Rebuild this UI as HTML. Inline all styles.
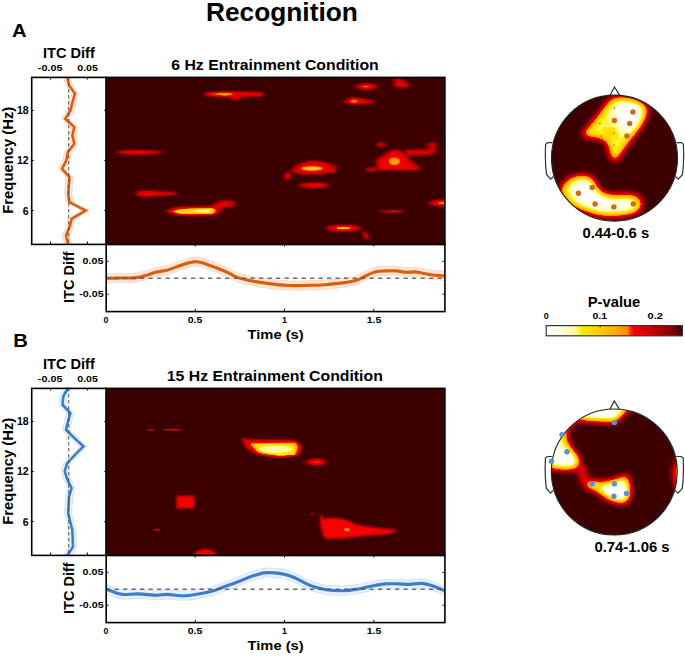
<!DOCTYPE html>
<html><head><meta charset="utf-8"><style>
html,body{margin:0;padding:0;background:#fff;width:685px;height:656px;overflow:hidden}
svg{display:block}
text{font-family:"Liberation Sans",sans-serif;font-weight:bold;fill:#000}
</style></head><body>
<svg width="685" height="656" viewBox="0 0 685 656">
<defs>
<filter id="hot" x="-5%" y="-5%" width="110%" height="110%" color-interpolation-filters="sRGB">
<feComponentTransfer><feFuncR type="table" tableValues="0.243 0.276 0.310 0.343 0.376 0.410 0.443 0.476 0.510 0.531 0.552 0.574 0.595 0.616 0.637 0.658 0.680 0.701 0.722 0.743 0.765 0.777 0.790 0.803 0.815 0.828 0.841 0.854 0.866 0.879 0.892 0.904 0.917 0.930 0.942 0.955 0.968 0.980 0.980 0.987 1.000 1.000 1.000 1.000 1.000 1.000 1.000 1.000 1.000 1.000 1.000 1.000 1.000 1.000 1.000 1.000 1.000 1.000 1.000 1.000 1.000 1.000 1.000 1.000 1.000 1.000 1.000 1.000 1.000 1.000 1.000 1.000 1.000 1.000 1.000 1.000 1.000 1.000 1.000 1.000 1.000 1.000 1.000 1.000 1.000 1.000 1.000 1.000 1.000 1.000 1.000 1.000 1.000 1.000 1.000 1.000 1.000 1.000 1.000 1.000 1.000"/><feFuncG type="table" tableValues="0.000 0.000 0.000 0.000 0.000 0.000 0.000 0.000 0.000 0.000 0.000 0.000 0.000 0.000 0.000 0.000 0.000 0.000 0.000 0.000 0.000 0.000 0.000 0.000 0.000 0.000 0.000 0.000 0.000 0.000 0.000 0.000 0.000 0.000 0.000 0.000 0.000 0.000 0.183 0.353 0.510 0.529 0.549 0.569 0.588 0.608 0.627 0.647 0.659 0.671 0.683 0.695 0.707 0.719 0.732 0.744 0.756 0.768 0.780 0.792 0.804 0.813 0.821 0.830 0.838 0.847 0.856 0.864 0.873 0.882 0.890 0.899 0.907 0.916 0.925 0.933 0.959 0.974 0.976 0.978 0.981 0.983 0.985 0.988 0.990 0.992 0.993 0.994 0.995 0.995 0.996 0.997 0.998 0.998 0.999 1.000 1.000 1.000 1.000 1.000 1.000"/><feFuncB type="table" tableValues="0.000 0.000 0.000 0.000 0.000 0.000 0.000 0.000 0.000 0.000 0.000 0.000 0.000 0.000 0.000 0.000 0.000 0.000 0.000 0.000 0.000 0.000 0.000 0.000 0.000 0.000 0.000 0.000 0.000 0.000 0.000 0.000 0.000 0.000 0.000 0.000 0.000 0.000 0.000 0.000 0.000 0.000 0.000 0.000 0.000 0.000 0.000 0.000 0.000 0.000 0.000 0.000 0.000 0.000 0.000 0.000 0.000 0.000 0.000 0.000 0.000 0.000 0.000 0.000 0.000 0.000 0.000 0.000 0.000 0.000 0.000 0.000 0.000 0.000 0.000 0.000 0.340 0.526 0.558 0.591 0.623 0.655 0.687 0.720 0.752 0.784 0.802 0.820 0.837 0.855 0.873 0.890 0.908 0.925 0.943 0.961 0.969 0.976 0.984 0.992 1.000"/></feComponentTransfer></filter>
<filter id="b1" x="-50%" y="-50%" width="200%" height="200%" color-interpolation-filters="sRGB"><feGaussianBlur stdDeviation="1.00 0.60"/></filter>
<filter id="b2" x="-50%" y="-50%" width="200%" height="200%" color-interpolation-filters="sRGB"><feGaussianBlur stdDeviation="1.80 1.00"/></filter>
<filter id="b3" x="-50%" y="-50%" width="200%" height="200%" color-interpolation-filters="sRGB"><feGaussianBlur stdDeviation="2.60 1.30"/></filter>
<filter id="tb" x="-50%" y="-50%" width="200%" height="200%" color-interpolation-filters="sRGB"><feGaussianBlur stdDeviation="3.00 3.00"/></filter>
<filter id="tw" x="-50%" y="-50%" width="200%" height="200%" color-interpolation-filters="sRGB"><feGaussianBlur stdDeviation="4.00 4.00"/></filter>
<linearGradient id="cb" x1="0" x2="1" y1="0" y2="0"><stop offset="0.00" stop-color="rgb(255,255,255)"/><stop offset="0.02" stop-color="rgb(255,255,251)"/><stop offset="0.04" stop-color="rgb(255,255,247)"/><stop offset="0.06" stop-color="rgb(255,254,240)"/><stop offset="0.08" stop-color="rgb(255,254,231)"/><stop offset="0.10" stop-color="rgb(255,254,222)"/><stop offset="0.12" stop-color="rgb(255,253,213)"/><stop offset="0.14" stop-color="rgb(255,253,204)"/><stop offset="0.16" stop-color="rgb(255,252,191)"/><stop offset="0.18" stop-color="rgb(255,251,175)"/><stop offset="0.20" stop-color="rgb(255,250,158)"/><stop offset="0.22" stop-color="rgb(255,248,142)"/><stop offset="0.24" stop-color="rgb(255,244,86)"/><stop offset="0.26" stop-color="rgb(255,235,0)"/><stop offset="0.28" stop-color="rgb(255,231,0)"/><stop offset="0.30" stop-color="rgb(255,227,0)"/><stop offset="0.32" stop-color="rgb(255,222,0)"/><stop offset="0.34" stop-color="rgb(255,218,0)"/><stop offset="0.36" stop-color="rgb(255,213,0)"/><stop offset="0.38" stop-color="rgb(255,209,0)"/><stop offset="0.40" stop-color="rgb(255,205,0)"/><stop offset="0.42" stop-color="rgb(255,198,0)"/><stop offset="0.44" stop-color="rgb(255,192,0)"/><stop offset="0.46" stop-color="rgb(255,186,0)"/><stop offset="0.48" stop-color="rgb(255,180,0)"/><stop offset="0.50" stop-color="rgb(255,174,0)"/><stop offset="0.52" stop-color="rgb(255,168,0)"/><stop offset="0.54" stop-color="rgb(255,160,0)"/><stop offset="0.56" stop-color="rgb(255,149,0)"/><stop offset="0.58" stop-color="rgb(255,140,0)"/><stop offset="0.60" stop-color="rgb(255,130,0)"/><stop offset="0.62" stop-color="rgb(250,46,0)"/><stop offset="0.64" stop-color="rgb(246,0,0)"/><stop offset="0.66" stop-color="rgb(240,0,0)"/><stop offset="0.68" stop-color="rgb(233,0,0)"/><stop offset="0.70" stop-color="rgb(227,0,0)"/><stop offset="0.72" stop-color="rgb(220,0,0)"/><stop offset="0.74" stop-color="rgb(214,0,0)"/><stop offset="0.76" stop-color="rgb(207,0,0)"/><stop offset="0.78" stop-color="rgb(201,0,0)"/><stop offset="0.80" stop-color="rgb(195,0,0)"/><stop offset="0.82" stop-color="rgb(184,0,0)"/><stop offset="0.84" stop-color="rgb(173,0,0)"/><stop offset="0.86" stop-color="rgb(162,0,0)"/><stop offset="0.88" stop-color="rgb(151,0,0)"/><stop offset="0.90" stop-color="rgb(140,0,0)"/><stop offset="0.92" stop-color="rgb(130,0,0)"/><stop offset="0.94" stop-color="rgb(113,0,0)"/><stop offset="0.96" stop-color="rgb(96,0,0)"/><stop offset="0.98" stop-color="rgb(79,0,0)"/><stop offset="1.00" stop-color="rgb(62,0,0)"/></linearGradient>
<clipPath id="cA"><rect x="106.2" y="77.4" width="338.7" height="167"/></clipPath>
<clipPath id="cB"><rect x="106.2" y="388.4" width="338.7" height="167"/></clipPath>
<clipPath id="tA"><circle cx="614.5" cy="158.1" r="63"/></clipPath>
<clipPath id="tB"><circle cx="614.3" cy="472" r="63"/></clipPath>
</defs>
<rect width="685" height="656" fill="#fff"/>
<text x="206.0" y="20.5" font-size="26.0" textLength="151.8" lengthAdjust="spacingAndGlyphs">Recognition</text>
<text x="12.0" y="37.0" font-size="18.6" textLength="14.6" lengthAdjust="spacingAndGlyphs">A</text>
<text x="13.2" y="347.4" font-size="18.6" textLength="14.6" lengthAdjust="spacingAndGlyphs">B</text>
<g clip-path="url(#cA)"><g filter="url(#hot)"><rect x="96" y="67" width="360" height="190" fill="#000"/>
<ellipse cx="234.0" cy="94.3" rx="30.0" ry="2.2" fill="#4c4c4c" filter="url(#b3)"/>
<ellipse cx="235.0" cy="97.6" rx="5.0" ry="2.0" fill="#4c4c4c" filter="url(#b2)"/>
<ellipse cx="250.0" cy="94.3" rx="12.0" ry="1.4" fill="#595959" filter="url(#b2)"/>
<ellipse cx="222.0" cy="94.2" rx="14.0" ry="1.6" fill="#737373" filter="url(#b3)"/>
<ellipse cx="225.0" cy="94.1" rx="6.0" ry="1.0" fill="#808080" filter="url(#b2)"/>
<ellipse cx="139.0" cy="152.3" rx="22.0" ry="1.9" fill="#4c4c4c" filter="url(#b3)"/>
<ellipse cx="136.0" cy="152.3" rx="10.0" ry="1.0" fill="#5e5e5e" filter="url(#b2)"/>
<polygon points="137.5,191.3 150.0,190.9 175.5,192.6 175.5,194.8 150.0,196.0 137.5,196.0" fill="#4c4c4c" filter="url(#b3)"/>
<ellipse cx="147.0" cy="193.6" rx="8.0" ry="1.3" fill="#616161" filter="url(#b2)"/>
<polygon points="166.0,211.5 176.0,207.5 212.0,206.5 216.0,204.0 222.0,200.5 234.0,201.5 233.0,206.0 222.0,207.5 218.0,213.5 205.0,215.5 178.0,215.0" fill="#4c4c4c" filter="url(#b3)"/>
<polygon points="170.0,211.3 180.0,208.3 213.0,207.8 216.5,210.5 214.0,214.0 190.0,214.6 178.0,214.0" fill="#6e6e6e" filter="url(#b2)"/>
<polygon points="174.0,211.2 184.0,209.0 212.0,208.6 214.5,211.0 212.0,213.4 190.0,213.8 180.0,213.2" fill="#a8a8a8" filter="url(#b1)"/>
<ellipse cx="203.0" cy="211.0" rx="9.0" ry="1.3" fill="#cccccc" filter="url(#b1)"/>
<ellipse cx="366.5" cy="86.7" rx="10.5" ry="2.7" fill="#4c4c4c" filter="url(#b3)"/>
<ellipse cx="366.0" cy="86.5" rx="4.5" ry="1.3" fill="#757575" filter="url(#b2)"/>
<polygon points="394.5,78.5 399.0,78.5 409.5,85.0 405.0,88.0 395.0,86.0" fill="#4c4c4c" filter="url(#b3)"/>
<ellipse cx="400.0" cy="83.0" rx="3.0" ry="1.5" fill="#5c5c5c" filter="url(#b2)"/>
<polygon points="344.0,101.5 352.0,97.5 374.0,101.0 372.0,103.3 352.0,104.3" fill="#4c4c4c" filter="url(#b3)"/>
<ellipse cx="354.0" cy="101.3" rx="4.5" ry="1.6" fill="#787878" filter="url(#b2)"/>
<ellipse cx="381.0" cy="144.7" rx="4.0" ry="1.8" fill="#474747" filter="url(#b2)"/>
<polygon points="377.3,170.0 377.3,160.0 390.5,151.4 395.0,149.8 399.7,150.8 405.0,154.7 410.2,161.3 420.7,169.8" fill="#525252" filter="url(#b3)"/>
<polygon points="405.0,154.7 406.0,150.0 428.6,150.0 428.6,143.0 435.2,143.0 435.2,152.7 426.0,154.7 410.0,155.0" fill="#474747" filter="url(#b3)"/>
<ellipse cx="371.0" cy="169.2" rx="5.0" ry="1.5" fill="#454545" filter="url(#b2)"/>
<ellipse cx="394.4" cy="161.3" rx="6.5" ry="4.3" fill="#696969" filter="url(#b2)"/>
<ellipse cx="394.4" cy="161.3" rx="3.5" ry="2.4" fill="#7d7d7d" filter="url(#b2)"/>
<polygon points="291.4,171.0 300.0,164.0 312.3,160.7 326.0,163.0 335.5,167.0 334.0,172.0 320.0,173.8 298.0,173.8" fill="#4c4c4c" filter="url(#b3)"/>
<ellipse cx="287.5" cy="176.0" rx="3.0" ry="3.8" fill="#404040" filter="url(#b2)"/>
<ellipse cx="312.0" cy="168.5" rx="12.0" ry="2.4" fill="#757575" filter="url(#b2)"/>
<ellipse cx="312.0" cy="168.4" rx="8.0" ry="1.3" fill="#9c9c9c" filter="url(#b1)"/>
<ellipse cx="314.0" cy="185.3" rx="14.5" ry="2.2" fill="#4c4c4c" filter="url(#b3)"/>
<ellipse cx="314.0" cy="185.3" rx="8.0" ry="1.0" fill="#616161" filter="url(#b2)"/>
<ellipse cx="443.0" cy="203.0" rx="13.0" ry="3.0" fill="#4c4c4c" filter="url(#b3)"/>
<ellipse cx="443.0" cy="203.0" rx="6.0" ry="1.6" fill="#757575" filter="url(#b2)"/>
<ellipse cx="392.0" cy="211.4" rx="12.0" ry="0.9" fill="#474747" filter="url(#b2)"/>
<ellipse cx="394.0" cy="211.4" rx="6.0" ry="0.6" fill="#595959" filter="url(#b1)"/>
<ellipse cx="343.5" cy="228.2" rx="16.5" ry="3.0" fill="#4c4c4c" filter="url(#b3)"/>
<ellipse cx="344.0" cy="228.2" rx="9.0" ry="1.6" fill="#737373" filter="url(#b2)"/>
<ellipse cx="343.0" cy="228.0" rx="5.0" ry="0.9" fill="#999999" filter="url(#b1)"/>
<polygon points="362.0,231.5 366.0,232.5 370.0,238.8 365.0,238.8" fill="#424242" filter="url(#b2)"/>
</g></g>
<g clip-path="url(#cB)"><g filter="url(#hot)"><rect x="96" y="378" width="360" height="190" fill="#000"/>
<ellipse cx="150.0" cy="429.7" rx="3.0" ry="0.9" fill="#383838" filter="url(#b1)"/>
<ellipse cx="171.5" cy="429.7" rx="9.0" ry="0.9" fill="#383838" filter="url(#b1)"/>
<polygon points="241.7,438.2 250.4,439.7 294.2,440.4 301.5,446.3 298.6,455.0 278.2,457.6 256.3,454.0 246.1,447.7" fill="#4c4c4c" filter="url(#b2)"/>
<polygon points="249.0,442.5 296.0,442.0 298.5,447.0 296.0,455.0 280.0,456.5 258.0,453.0" fill="#6e6e6e" filter="url(#b2)"/>
<polygon points="251.5,444.0 294.5,443.5 296.0,447.0 294.0,454.5 280.0,455.5 259.0,451.5" fill="#a8a8a8" filter="url(#b1)"/>
<ellipse cx="276.0" cy="449.2" rx="18.0" ry="4.2" fill="#cccccc" filter="url(#b2)"/>
<ellipse cx="316.0" cy="462.0" rx="9.5" ry="3.0" fill="#4c4c4c" filter="url(#b3)"/>
<ellipse cx="317.0" cy="462.3" rx="6.0" ry="1.3" fill="#6e6e6e" filter="url(#b2)"/>
<polygon points="177.0,496.2 194.0,496.2 194.0,507.8 177.0,507.8" fill="#5c5c5c" filter="url(#b2)"/>
<ellipse cx="185.5" cy="502.0" rx="5.0" ry="3.0" fill="#595959" filter="url(#b2)"/>
<ellipse cx="157.0" cy="529.8" rx="2.5" ry="1.2" fill="#383838" filter="url(#b1)"/>
<polygon points="191.0,558.0 198.0,551.0 205.0,549.0 212.0,551.0 220.0,558.0" fill="#575757" filter="url(#b2)"/>
<ellipse cx="205.0" cy="552.0" rx="3.0" ry="1.5" fill="#5e5e5e" filter="url(#b1)"/>
<polygon points="320.4,514.0 323.9,518.9 330.8,518.2 340.5,518.9 348.8,521.0 355.8,525.1 365.5,526.5 379.3,528.6 396.0,530.0 396.7,530.7 387.7,533.4 372.4,534.8 355.8,536.2 341.9,538.3 326.6,538.3 323.9,536.2 321.1,525.8" fill="#5c5c5c" filter="url(#b2)"/>
<ellipse cx="346.8" cy="529.7" rx="2.5" ry="1.8" fill="#6e6e6e" filter="url(#b1)"/>
<ellipse cx="334.3" cy="522.3" rx="2.0" ry="1.5" fill="#5e5e5e" filter="url(#b1)"/>
<ellipse cx="362.7" cy="530.4" rx="3.0" ry="1.2" fill="#5c5c5c" filter="url(#b1)"/>
<ellipse cx="312.0" cy="513.7" rx="1.5" ry="1.0" fill="#333333" filter="url(#b1)"/>
</g></g>
<polygon points="63.6,77.0 65.4,85.3 71.4,93.7 68.9,102.0 66.9,110.4 61.7,118.8 70.7,127.1 68.8,135.4 70.7,143.8 64.2,152.2 62.7,160.5 58.4,168.8 65.9,177.2 65.2,185.6 64.6,193.9 65.9,202.2 82.0,210.6 68.0,218.9 65.9,227.3 62.4,235.7 64.4,244.0 71.6,244.0 69.6,235.7 73.1,227.3 75.2,218.9 89.2,210.6 73.1,202.2 71.8,193.9 72.4,185.6 73.1,177.2 65.6,168.8 69.9,160.5 71.4,152.2 77.9,143.8 76.0,135.4 77.9,127.1 68.9,118.8 74.1,110.4 76.1,102.0 78.6,93.7 72.6,85.3 70.8,77.0" fill="#fde7d8" stroke="#f6c09c" stroke-width="0.5"/>
<polyline points="67.2,77.0 69.0,85.3 75.0,93.7 72.5,102.0 70.5,110.4 65.3,118.8 74.3,127.1 72.4,135.4 74.3,143.8 67.8,152.2 66.3,160.5 62.0,168.8 69.5,177.2 68.8,185.6 68.2,193.9 69.5,202.2 85.6,210.6 71.6,218.9 69.5,227.3 66.0,235.7 68.0,244.0" fill="none" stroke="#d95f0e" stroke-width="2.6" stroke-linejoin="miter" stroke-miterlimit="3"/>
<line x1="68.7" y1="77.0" x2="68.7" y2="244.0" stroke="#555" stroke-width="1.2" stroke-dasharray="3.4,2.6" opacity="0.85"/>
<path d="M106.6,273.6 C109.2,273.6 116.7,273.5 122.0,273.4 C127.3,273.3 132.4,273.8 138.2,272.8 C143.9,271.8 151.7,268.7 156.5,267.5 C161.3,266.3 163.1,266.8 167.0,265.7 C170.9,264.6 175.8,262.3 180.2,260.9 C184.6,259.5 189.8,257.8 193.3,257.3 C196.8,256.8 197.7,256.9 201.2,257.8 C204.7,258.7 210.0,260.8 214.4,262.5 C218.8,264.2 223.6,266.0 227.5,267.8 C231.4,269.5 234.1,271.6 238.0,273.0 C241.9,274.4 246.3,275.2 251.1,276.2 C255.9,277.2 260.8,278.0 267.0,278.8 C273.2,279.6 281.3,280.6 288.4,280.9 C295.5,281.2 303.3,280.8 309.4,280.7 C315.5,280.6 320.4,280.4 325.2,280.1 C330.0,279.8 334.2,279.3 338.3,278.8 C342.4,278.3 346.6,277.7 350.0,277.1 C353.4,276.5 355.6,276.1 358.4,275.0 C361.2,273.9 363.8,272.1 366.8,270.8 C369.8,269.4 373.3,267.6 376.6,266.9 C379.9,266.1 383.1,266.4 386.4,266.3 C389.7,266.2 392.9,266.1 396.2,266.3 C399.5,266.5 403.1,267.5 406.1,267.7 C409.2,267.9 411.7,267.1 414.5,267.3 C417.3,267.5 420.1,268.2 422.9,268.7 C425.7,269.2 427.7,269.7 431.3,270.1 C434.9,270.5 442.3,271.1 444.5,271.3 L444.5,280.5 C442.3,280.3 434.9,279.7 431.3,279.3 C427.7,278.9 425.7,278.4 422.9,277.9 C420.1,277.4 417.3,276.7 414.5,276.5 C411.7,276.3 409.2,277.1 406.1,276.9 C403.1,276.7 399.5,275.7 396.2,275.5 C392.9,275.3 389.7,275.4 386.4,275.5 C383.1,275.6 379.9,275.4 376.6,276.1 C373.3,276.9 369.8,278.6 366.8,280.0 C363.8,281.4 361.2,283.2 358.4,284.2 C355.6,285.3 353.4,285.7 350.0,286.3 C346.6,286.9 342.4,287.5 338.3,288.0 C334.2,288.5 330.0,289.0 325.2,289.3 C320.4,289.6 315.5,289.8 309.4,289.9 C303.3,290.0 295.5,290.4 288.4,290.1 C281.3,289.8 273.2,288.8 267.0,288.0 C260.8,287.2 255.9,286.4 251.1,285.4 C246.3,284.4 241.9,283.6 238.0,282.2 C234.1,280.8 231.4,278.8 227.5,277.0 C223.6,275.2 218.8,273.4 214.4,271.7 C210.0,270.0 204.7,267.9 201.2,267.0 C197.7,266.1 196.8,266.0 193.3,266.5 C189.8,267.0 184.6,268.7 180.2,270.1 C175.8,271.5 170.9,273.8 167.0,274.9 C163.1,276.0 161.3,275.5 156.5,276.7 C151.7,277.9 143.9,281.0 138.2,282.0 C132.4,283.0 127.3,282.5 122.0,282.6 C116.7,282.7 109.2,282.8 106.6,282.8 Z" fill="#fde7d8" stroke="#f6c09c" stroke-width="0.5"/>
<path d="M106.6,278.2 C109.2,278.2 116.7,278.1 122.0,278.0 C127.3,277.9 132.4,278.4 138.2,277.4 C143.9,276.4 151.7,273.3 156.5,272.1 C161.3,270.9 163.1,271.4 167.0,270.3 C170.9,269.2 175.8,266.9 180.2,265.5 C184.6,264.1 189.8,262.4 193.3,261.9 C196.8,261.4 197.7,261.5 201.2,262.4 C204.7,263.3 210.0,265.4 214.4,267.1 C218.8,268.8 223.6,270.6 227.5,272.4 C231.4,274.1 234.1,276.2 238.0,277.6 C241.9,279.0 246.3,279.8 251.1,280.8 C255.9,281.8 260.8,282.6 267.0,283.4 C273.2,284.2 281.3,285.2 288.4,285.5 C295.5,285.8 303.3,285.4 309.4,285.3 C315.5,285.2 320.4,285.0 325.2,284.7 C330.0,284.4 334.2,283.9 338.3,283.4 C342.4,282.9 346.6,282.3 350.0,281.7 C353.4,281.1 355.6,280.7 358.4,279.6 C361.2,278.6 363.8,276.8 366.8,275.4 C369.8,274.0 373.3,272.2 376.6,271.5 C379.9,270.8 383.1,271.0 386.4,270.9 C389.7,270.8 392.9,270.7 396.2,270.9 C399.5,271.1 403.1,272.1 406.1,272.3 C409.2,272.5 411.7,271.7 414.5,271.9 C417.3,272.1 420.1,272.8 422.9,273.3 C425.7,273.8 427.7,274.3 431.3,274.7 C434.9,275.1 442.3,275.7 444.5,275.9" fill="none" stroke="#d95f0e" stroke-width="3.1"/>
<line x1="106" y1="278.2" x2="445" y2="278.2" stroke="#555" stroke-width="1.4" stroke-dasharray="4.3,4.2" opacity="0.85"/>
<polygon points="64.4,388.0 59.7,396.4 58.9,404.7 66.8,413.1 64.4,421.4 62.4,429.8 70.9,438.1 79.8,446.4 71.4,454.8 63.6,463.1 61.1,471.5 63.9,479.9 68.0,488.2 65.4,496.6 65.0,504.9 64.6,513.2 66.6,521.6 68.7,530.0 69.1,538.3 69.4,546.6 63.9,555.0 71.1,555.0 76.6,546.6 76.3,538.3 75.9,530.0 73.8,521.6 71.8,513.2 72.2,504.9 72.6,496.6 75.2,488.2 71.1,479.9 68.3,471.5 70.8,463.1 78.6,454.8 87.0,446.4 78.1,438.1 69.6,429.8 71.6,421.4 74.0,413.1 66.1,404.7 66.9,396.4 71.6,388.0" fill="#e8f1fb" stroke="#b3cff0" stroke-width="0.5"/>
<polyline points="68.0,388.0 63.3,396.4 62.5,404.7 70.4,413.1 68.0,421.4 66.0,429.8 74.5,438.1 83.4,446.4 75.0,454.8 67.2,463.1 64.7,471.5 67.5,479.9 71.6,488.2 69.0,496.6 68.6,504.9 68.2,513.2 70.2,521.6 72.3,530.0 72.7,538.3 73.0,546.6 67.5,555.0" fill="none" stroke="#3d7cc9" stroke-width="2.6" stroke-linejoin="miter" stroke-miterlimit="3"/>
<line x1="68.7" y1="388.0" x2="68.7" y2="555.0" stroke="#555" stroke-width="1.2" stroke-dasharray="3.4,2.6" opacity="0.85"/>
<path d="M106.6,584.6 C107.7,585.0 110.6,586.3 113.2,587.2 C115.8,588.1 118.2,589.4 122.4,589.8 C126.6,590.1 132.5,589.2 138.2,589.3 C143.9,589.4 151.7,590.5 156.5,590.6 C161.3,590.7 163.1,589.7 167.0,589.8 C170.9,589.9 176.2,591.0 180.2,591.1 C184.1,591.2 186.8,591.0 190.7,590.6 C194.6,590.2 199.9,589.3 203.8,588.5 C207.8,587.7 210.9,587.0 214.4,585.9 C217.9,584.8 220.5,583.5 224.9,581.9 C229.3,580.3 236.2,577.8 240.6,576.1 C245.0,574.4 247.1,573.2 251.1,571.9 C255.1,570.6 260.4,568.9 264.3,568.3 C268.2,567.7 271.5,568.1 274.8,568.3 C278.1,568.5 280.9,568.9 284.0,569.6 C287.1,570.3 290.2,571.3 293.6,572.7 C297.0,574.1 300.7,576.4 304.2,578.0 C307.7,579.6 310.8,581.3 314.7,582.5 C318.6,583.7 323.0,584.8 327.8,585.4 C332.6,586.0 338.8,586.2 343.6,586.1 C348.4,586.0 352.3,585.3 356.7,584.6 C361.1,583.9 365.0,582.8 369.8,581.9 C374.6,581.0 380.8,579.7 385.6,579.3 C390.4,578.9 394.8,579.2 398.7,579.3 C402.6,579.4 405.4,579.9 409.3,579.8 C413.2,579.7 418.5,578.5 422.4,578.8 C426.3,579.1 429.2,580.2 432.9,581.4 C436.6,582.6 442.6,585.4 444.5,586.2 L444.5,595.4 C442.6,594.6 436.6,591.8 432.9,590.6 C429.2,589.4 426.3,588.3 422.4,588.0 C418.5,587.7 413.2,588.9 409.3,589.0 C405.4,589.1 402.6,588.6 398.7,588.5 C394.8,588.4 390.4,588.1 385.6,588.5 C380.8,588.9 374.6,590.2 369.8,591.1 C365.0,592.0 361.1,593.1 356.7,593.8 C352.3,594.5 348.4,595.2 343.6,595.3 C338.8,595.4 332.6,595.2 327.8,594.6 C323.0,594.0 318.6,592.9 314.7,591.7 C310.8,590.5 307.7,588.8 304.2,587.2 C300.7,585.6 297.0,583.3 293.6,581.9 C290.2,580.5 287.1,579.5 284.0,578.8 C280.9,578.1 278.1,577.7 274.8,577.5 C271.5,577.3 268.2,576.9 264.3,577.5 C260.4,578.1 255.1,579.8 251.1,581.1 C247.1,582.4 245.0,583.6 240.6,585.3 C236.2,587.0 229.3,589.5 224.9,591.1 C220.5,592.7 217.9,594.0 214.4,595.1 C210.9,596.2 207.8,596.9 203.8,597.7 C199.9,598.5 194.6,599.4 190.7,599.8 C186.8,600.2 184.1,600.4 180.2,600.3 C176.2,600.2 170.9,599.1 167.0,599.0 C163.1,598.9 161.3,599.9 156.5,599.8 C151.7,599.7 143.9,598.6 138.2,598.5 C132.5,598.4 126.6,599.4 122.4,599.0 C118.2,598.6 115.8,597.3 113.2,596.4 C110.6,595.5 107.7,594.2 106.6,593.8 Z" fill="#e8f1fb" stroke="#b3cff0" stroke-width="0.5"/>
<path d="M106.6,589.2 C107.7,589.6 110.6,590.9 113.2,591.8 C115.8,592.7 118.2,594.0 122.4,594.4 C126.6,594.8 132.5,593.8 138.2,593.9 C143.9,594.0 151.7,595.1 156.5,595.2 C161.3,595.3 163.1,594.3 167.0,594.4 C170.9,594.5 176.2,595.6 180.2,595.7 C184.1,595.8 186.8,595.6 190.7,595.2 C194.6,594.8 199.9,593.9 203.8,593.1 C207.8,592.3 210.9,591.6 214.4,590.5 C217.9,589.4 220.5,588.1 224.9,586.5 C229.3,584.9 236.2,582.4 240.6,580.7 C245.0,579.0 247.1,577.8 251.1,576.5 C255.1,575.2 260.4,573.5 264.3,572.9 C268.2,572.3 271.5,572.7 274.8,572.9 C278.1,573.1 280.9,573.5 284.0,574.2 C287.1,574.9 290.2,575.9 293.6,577.3 C297.0,578.7 300.7,581.0 304.2,582.6 C307.7,584.2 310.8,585.9 314.7,587.1 C318.6,588.3 323.0,589.4 327.8,590.0 C332.6,590.6 338.8,590.8 343.6,590.7 C348.4,590.6 352.3,589.9 356.7,589.2 C361.1,588.5 365.0,587.4 369.8,586.5 C374.6,585.6 380.8,584.3 385.6,583.9 C390.4,583.5 394.8,583.8 398.7,583.9 C402.6,584.0 405.4,584.5 409.3,584.4 C413.2,584.3 418.5,583.1 422.4,583.4 C426.3,583.7 429.2,584.8 432.9,586.0 C436.6,587.2 442.6,590.0 444.5,590.8" fill="none" stroke="#3d7cc9" stroke-width="3.1"/>
<line x1="106" y1="589.2" x2="445" y2="589.2" stroke="#555" stroke-width="1.4" stroke-dasharray="4.3,4.2" opacity="0.85"/>
<rect x="31.7" y="77.4" width="74.5" height="167" fill="none" stroke="#000" stroke-width="1.6"/>
<rect x="106.2" y="77.4" width="338.7" height="167" fill="none" stroke="#000" stroke-width="1.6"/>
<rect x="106.2" y="244.4" width="338.7" height="67.2" fill="none" stroke="#000" stroke-width="1.6"/>
<path d="M50.6 77.0v2.5 M50.6 244.0v-2.5 M87.4 77.0v2.5 M87.4 244.0v-2.5 M31.7 110.4h2 M106.2 110.4h-2 M31.7 160.5h2 M106.2 160.5h-2 M31.7 210.6h2 M106.2 210.6h-2 M195.3 244.0v2.5 M195.3 311.3v-2.5 M284.5 244.0v2.5 M284.5 311.3v-2.5 M373.8 244.0v2.5 M373.8 311.3v-2.5 M106 261.4h2.5 M445 261.4h-2.5 M106 294.2h2.5 M445 294.2h-2.5" stroke="#000" stroke-width="1" fill="none"/>
<rect x="31.7" y="388.4" width="74.5" height="167" fill="none" stroke="#000" stroke-width="1.6"/>
<rect x="106.2" y="388.4" width="338.7" height="167" fill="none" stroke="#000" stroke-width="1.6"/>
<rect x="106.2" y="555.4" width="338.7" height="67.2" fill="none" stroke="#000" stroke-width="1.6"/>
<path d="M50.6 388.0v2.5 M50.6 555.0v-2.5 M87.4 388.0v2.5 M87.4 555.0v-2.5 M31.7 421.4h2 M106.2 421.4h-2 M31.7 471.5h2 M106.2 471.5h-2 M31.7 521.6h2 M106.2 521.6h-2 M195.3 555.0v2.5 M195.3 622.3v-2.5 M284.5 555.0v2.5 M284.5 622.3v-2.5 M373.8 555.0v2.5 M373.8 622.3v-2.5 M106 572.4h2.5 M445 572.4h-2.5 M106 605.2h2.5 M445 605.2h-2.5" stroke="#000" stroke-width="1" fill="none"/>
<text x="43.0" y="57.9" font-size="14.0" textLength="51.8" lengthAdjust="spacingAndGlyphs">ITC Diff</text>
<text x="37.8" y="70.8" font-size="9.5" textLength="24.6" lengthAdjust="spacingAndGlyphs">-0.05</text>
<text x="77.3" y="70.8" font-size="9.5" textLength="20.6" lengthAdjust="spacingAndGlyphs">0.05</text>
<text x="171.2" y="69.7" font-size="14.1" textLength="207.6" lengthAdjust="spacingAndGlyphs">6 Hz Entrainment Condition</text>
<text x="28.6" y="113.9" font-size="10.5" text-anchor="end">18</text>
<text x="28.6" y="164.3" font-size="10.5" text-anchor="end">12</text>
<text x="28.6" y="214.9" font-size="10.5" text-anchor="end">6</text>
<text transform="translate(13.4,160.2) rotate(-90)" font-size="14.5" text-anchor="middle" textLength="107" lengthAdjust="spacingAndGlyphs">Frequency (Hz)</text>
<text transform="translate(74.3,277.2) rotate(-90)" font-size="14" text-anchor="middle" textLength="51.6" lengthAdjust="spacingAndGlyphs">ITC Diff</text>
<text x="103.6" y="264.3" font-size="9.5" text-anchor="end" textLength="21.0" lengthAdjust="spacingAndGlyphs">0.05</text>
<text x="103.6" y="297.0" font-size="9.5" text-anchor="end" textLength="24.4" lengthAdjust="spacingAndGlyphs">-0.05</text>
<text x="106.0" y="323.4" font-size="9.0" text-anchor="middle" textLength="4.9" lengthAdjust="spacingAndGlyphs">0</text>
<text x="195.0" y="323.4" font-size="9.0" text-anchor="middle" textLength="14.6" lengthAdjust="spacingAndGlyphs">0.5</text>
<text x="284.5" y="323.4" font-size="9.0" text-anchor="middle">1</text>
<text x="374.0" y="323.4" font-size="9.0" text-anchor="middle" textLength="14.6" lengthAdjust="spacingAndGlyphs">1.5</text>
<text x="247.5" y="339.2" font-size="13.6" textLength="56.2" lengthAdjust="spacingAndGlyphs">Time (s)</text>
<text x="43.0" y="368.9" font-size="14.0" textLength="51.8" lengthAdjust="spacingAndGlyphs">ITC Diff</text>
<text x="37.8" y="381.8" font-size="9.5" textLength="24.6" lengthAdjust="spacingAndGlyphs">-0.05</text>
<text x="77.3" y="381.8" font-size="9.5" textLength="20.6" lengthAdjust="spacingAndGlyphs">0.05</text>
<text x="166.8" y="380.7" font-size="14.1" textLength="216.0" lengthAdjust="spacingAndGlyphs">15 Hz Entrainment Condition</text>
<text x="28.6" y="424.9" font-size="10.5" text-anchor="end">18</text>
<text x="28.6" y="475.3" font-size="10.5" text-anchor="end">12</text>
<text x="28.6" y="525.9" font-size="10.5" text-anchor="end">6</text>
<text transform="translate(13.4,471.2) rotate(-90)" font-size="14.5" text-anchor="middle" textLength="107" lengthAdjust="spacingAndGlyphs">Frequency (Hz)</text>
<text transform="translate(74.3,588.2) rotate(-90)" font-size="14" text-anchor="middle" textLength="51.6" lengthAdjust="spacingAndGlyphs">ITC Diff</text>
<text x="103.6" y="575.3" font-size="9.5" text-anchor="end" textLength="21.0" lengthAdjust="spacingAndGlyphs">0.05</text>
<text x="103.6" y="608.0" font-size="9.5" text-anchor="end" textLength="24.4" lengthAdjust="spacingAndGlyphs">-0.05</text>
<text x="106.0" y="634.4" font-size="9.0" text-anchor="middle" textLength="4.9" lengthAdjust="spacingAndGlyphs">0</text>
<text x="195.0" y="634.4" font-size="9.0" text-anchor="middle" textLength="14.6" lengthAdjust="spacingAndGlyphs">0.5</text>
<text x="284.5" y="634.4" font-size="9.0" text-anchor="middle">1</text>
<text x="374.0" y="634.4" font-size="9.0" text-anchor="middle" textLength="14.6" lengthAdjust="spacingAndGlyphs">1.5</text>
<text x="247.5" y="650.2" font-size="13.6" textLength="56.2" lengthAdjust="spacingAndGlyphs">Time (s)</text>
<g clip-path="url(#tA)"><g filter="url(#hot)"><rect x="544" y="88" width="140" height="140" fill="#000"/>
<polygon points="582.1,134.4 589.7,126.5 598.1,115.8 605.1,106.3 609.7,100.5 613.6,97.9 621.6,97.2 632.9,99.5 642.8,103.9 647.1,107.8 646.2,114.9 641.8,123.9 636.1,132.0 630.3,140.1 623.2,149.5 617.5,157.6 614.3,161.3 610.8,155.4 608.7,146.0 605.9,140.5 598.4,137.7 589.3,136.6 582.1,134.8" fill="#c2c2c2" filter="url(#tb)"/>
<polygon points="620.0,104.0 632.0,103.0 641.0,108.0 640.0,116.0 636.0,125.0 630.0,131.0 623.0,130.0 618.0,122.0 614.0,112.0" fill="#ffffff" filter="url(#tw)"/>
<ellipse cx="610.0" cy="134.0" rx="4.5" ry="3.5" fill="#8f8f8f" filter="url(#tb)"/>
<polygon points="564.6,183.2 571.1,178.0 580.1,176.0 589.0,176.7 593.0,180.2 595.8,187.1 602.7,193.3 613.2,195.5 627.0,194.8 636.0,196.1 641.2,200.7 640.7,207.4 635.2,212.6 621.4,215.0 607.8,215.7 597.0,214.4 583.3,210.3 571.4,204.9 562.9,195.6 561.1,187.8" fill="#c2c2c2" filter="url(#tb)"/>
<polygon points="576.0,182.0 586.0,181.0 591.0,184.0 594.0,192.0 601.0,199.0 615.0,202.0 630.0,201.0 635.0,204.0 632.0,208.0 618.0,210.0 600.0,209.0 586.0,204.0 577.0,198.0 573.0,190.0" fill="#ffffff" filter="url(#tw)"/>
</g></g>
<circle cx="614.5" cy="158.1" r="63" fill="none" stroke="#222" stroke-width="1.1"/>
<polyline points="610.2,95.1 614.5,87.0 619.5,95.1" fill="none" stroke="#222" stroke-width="1.1"/>
<polyline points="552.5,142.6 547.5,142.6 545.6,144.2 545.3,155.0 545.7,166.0 546.5,174.5 550.7,179.2 553.5,176.5" fill="none" stroke="#333" stroke-width="1.2"/><polyline points="676.5,142.6 681.5,142.6 683.4,144.2 683.7,155.0 683.3,166.0 682.5,174.5 678.3,179.2 675.5,176.5" fill="none" stroke="#333" stroke-width="1.2"/>
<circle cx="614.4" cy="108.2" r="0.6" fill="#222"/>
<circle cx="599.8" cy="123.4" r="0.6" fill="#222"/>
<circle cx="585.6" cy="133.2" r="0.6" fill="#222"/>
<circle cx="601.4" cy="136.0" r="0.6" fill="#222"/>
<circle cx="614.0" cy="133.2" r="0.6" fill="#222"/>
<circle cx="614.0" cy="145.0" r="0.6" fill="#222"/>
<circle cx="632.9" cy="112.0" r="2.7" fill="#d2691e"/>
<circle cx="614.4" cy="120.5" r="2.7" fill="#d2691e"/>
<circle cx="629.7" cy="123.4" r="2.7" fill="#d2691e"/>
<circle cx="626.9" cy="136.0" r="2.7" fill="#d2691e"/>
<circle cx="592.2" cy="187.5" r="2.7" fill="#d2691e"/>
<circle cx="578.4" cy="193.2" r="2.7" fill="#d2691e"/>
<circle cx="595.1" cy="203.9" r="2.7" fill="#d2691e"/>
<circle cx="613.9" cy="206.9" r="2.7" fill="#d2691e"/>
<circle cx="633.3" cy="203.9" r="2.7" fill="#d2691e"/>
<g clip-path="url(#tB)"><g filter="url(#hot)"><rect x="544" y="402" width="140" height="140" fill="#000"/>
<polygon points="562.0,433.6 568.3,427.3 576.1,419.1 591.9,418.4 606.8,420.6 614.4,421.8 619.3,416.9 623.8,412.4 628.6,408.8 628.6,402.4 562.1,402.4 557.8,433.6" fill="#cccccc" filter="url(#tb)"/>
<polygon points="582.0,411.0 595.0,405.0 618.0,405.0 621.0,411.0 612.0,417.0 596.0,418.5 584.0,417.5" fill="#ffffff" filter="url(#tw)"/>
<polygon points="559.9,430.4 567.1,431.0 565.9,437.9 570.7,449.1 577.8,457.6 579.1,464.8 577.4,467.3 569.9,467.6 557.0,467.1 547.4,465.9 547.4,430.4" fill="#c7c7c7" filter="url(#tb)"/>
<polygon points="552.0,448.0 565.0,449.0 573.0,456.0 576.0,464.0 570.0,467.0 552.0,466.0" fill="#ffffff" filter="url(#tw)"/>
<polygon points="577.0,466.0 583.0,466.0 588.0,481.0 583.0,483.0" fill="#737373" filter="url(#tb)"/>
<polygon points="585.2,483.3 587.1,481.7 591.8,480.8 603.4,482.9 612.8,482.2 622.1,478.3 627.1,475.2 627.3,475.2 628.1,484.4 628.6,495.5 626.3,501.3 621.2,501.8 613.0,499.7 604.6,495.5 592.8,489.6 586.6,487.1 585.0,484.5" fill="#c7c7c7" filter="url(#tb)"/>
<polygon points="603.5,485.0 615.0,483.0 625.0,480.0 627.0,488.0 627.0,498.0 620.0,500.0 610.0,497.0 604.0,492.0" fill="#ffffff" filter="url(#tw)"/>
<ellipse cx="681.0" cy="474.0" rx="7.0" ry="15.0" fill="#8f8f8f" filter="url(#tb)"/>
</g></g>
<circle cx="614.3" cy="472.0" r="63" fill="none" stroke="#222" stroke-width="1.1"/>
<polyline points="610.0,409.0 614.3,400.9 619.3,409.0" fill="none" stroke="#222" stroke-width="1.1"/>
<polyline points="552.3,456.5 547.3,456.5 545.4,458.1 545.1,468.9 545.5,479.9 546.3,488.4 550.5,493.1 553.3,490.4" fill="none" stroke="#333" stroke-width="1.2"/><polyline points="676.3,456.5 681.3,456.5 683.2,458.1 683.5,468.9 683.1,479.9 682.3,488.4 678.1,493.1 675.3,490.4" fill="none" stroke="#333" stroke-width="1.2"/>
<circle cx="614.4" cy="422.5" r="2.7" fill="#5b8fd6"/>
<circle cx="562.0" cy="434.6" r="2.7" fill="#5b8fd6"/>
<circle cx="567.0" cy="451.7" r="2.7" fill="#5b8fd6"/>
<circle cx="551.5" cy="461.3" r="2.7" fill="#5b8fd6"/>
<circle cx="592.2" cy="483.8" r="2.7" fill="#5b8fd6"/>
<circle cx="614.4" cy="483.8" r="2.7" fill="#5b8fd6"/>
<circle cx="626.5" cy="493.4" r="2.7" fill="#5b8fd6"/>
<circle cx="613.9" cy="496.3" r="2.7" fill="#5b8fd6"/>
<rect x="546.2" y="325.6" width="136.2" height="10.2" fill="url(#cb)" stroke="#333" stroke-width="1.2"/>
<path d="M600.2 325.6v1.5M654.4 325.6v1.5" stroke="#000" stroke-width="1"/>
<text x="587.8" y="306.5" font-size="14.0" textLength="52.4" lengthAdjust="spacingAndGlyphs">P-value</text>
<text x="546.2" y="319.2" font-size="9.0" text-anchor="middle" textLength="5.0" lengthAdjust="spacingAndGlyphs">0</text>
<text x="599.8" y="319.2" font-size="9.0" text-anchor="middle" textLength="14.6" lengthAdjust="spacingAndGlyphs">0.1</text>
<text x="655.2" y="319.2" font-size="9.0" text-anchor="middle" textLength="15.2" lengthAdjust="spacingAndGlyphs">0.2</text>
<text x="582.4" y="238.1" font-size="14.2" textLength="66.8" lengthAdjust="spacingAndGlyphs">0.44-0.6 s</text>
<text x="594.4" y="551.7" font-size="14.2" textLength="75.2" lengthAdjust="spacingAndGlyphs">0.74-1.06 s</text>
</svg>
</body></html>
